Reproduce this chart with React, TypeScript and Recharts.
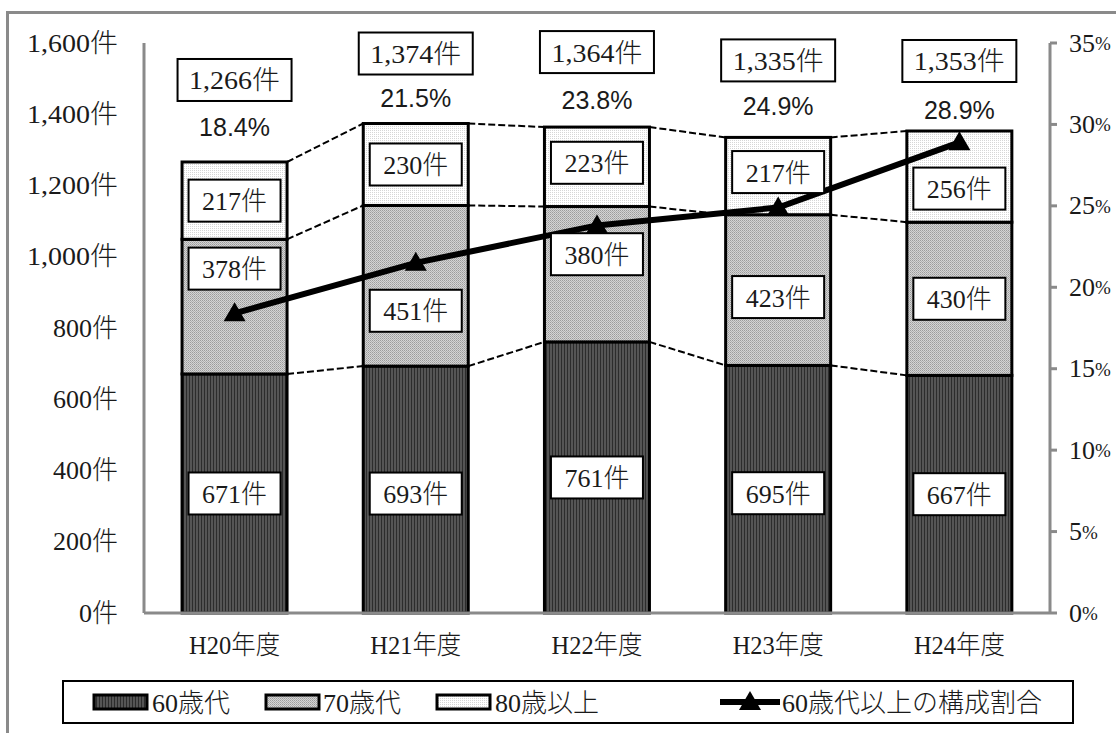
import React from 'react';
import { ComposedChart, Bar, Line, XAxis, YAxis, LabelList } from 'recharts';

// 年度別の件数（年代別）と60歳代以上の構成割合
const years = ['H20年度', 'H21年度', 'H22年度', 'H23年度', 'H24年度'];
const age60 = [671, 693, 761, 695, 667];
const age70 = [378, 451, 380, 423, 430];
const age80 = [217, 230, 223, 217, 256];
const ratio = [18.4, 21.5, 23.8, 24.9, 28.9];

const countTicks = [0, 200, 400, 600, 800, 1000, 1200, 1400, 1600];
const ratioTicks = [0, 5, 10, 15, 20, 25, 30, 35];

// label nudges (px) so boxes stay clear of the line
const shift60 = [0, 4, 0, 4, 0];
const shift70 = [-38, 25, -20, 7, 0];
const shift80 = [0, 0, -4, -4, 12];
const totalBoxShift = [-82, -70, -75, -77, -70];
const ratioShift = [-35, -26, -27, -31, -21];

const W = 1116;
const H = 733;
const FS = 26;

const serif = "'Liberation Serif', 'Noto Sans CJK JP', serif";
const sans = "'Liberation Sans', 'Noto Sans CJK JP', sans-serif";
const axisGray = '#8a8a8a';
const ink = '#1a1a1a';

const data = years.map((year, i) => ({
  year,
  a60: age60[i],
  a70: age70[i],
  a80: age80[i],
  ratio: ratio[i],
}));

const totals = years.map((_, i) => age60[i] + age70[i] + age80[i]);

const fmt = (n: number) => n.toLocaleString('en-US');

// half-width for ASCII, full-width for kana/kanji (mincho-style metrics)
const textWidth = (s: string, fs: number) =>
  Array.from(s).reduce((w, ch) => w + (ch.charCodeAt(0) < 256 ? 0.5 : 1), 0) * fs;

const MText = ({ x, y, anchor = 'start', children }: { x: number; y: number; anchor?: string; children: string }) => (
  <text
    x={x}
    y={y}
    textAnchor={anchor}
    dominantBaseline="central"
    fontFamily={serif}
    fontSize={FS}
    fontWeight={300}
    fill={ink}
    textLength={textWidth(children, FS)}
    lengthAdjust="spacingAndGlyphs"
  >
    {children}
  </text>
);

// remembers each segment's top-left so the next bar can draw a dashed link back to it
const geom: Record<string, { x: number; y: number; w: number }[]> = {};

const segmentShape = (key: string, fill: string) => (props: any) => {
  const { x, y, width, height, index } = props;
  const list = (geom[key] = geom[key] || []);
  list[index] = { x, y, w: width };
  const prev = index > 0 ? list[index - 1] : undefined;
  return (
    <g>
      <rect x={x} y={y} width={width} height={height} fill={fill} stroke="#000" strokeWidth={3} />
      {prev && (
        <line
          x1={prev.x + prev.w}
          y1={prev.y}
          x2={x}
          y2={y}
          stroke="#000"
          strokeWidth={2}
          strokeDasharray="7 3"
        />
      )}
    </g>
  );
};

const box = (props: any) => {
  const vb = props.viewBox || props;
  return { x: vb.x as number, y: vb.y as number, w: vb.width as number, h: vb.height as number };
};

const segmentLabel = (values: number[], shifts: number[]) => (props: any) => {
  const { x, y, w, h } = box(props);
  const i = props.index as number;
  const cx = x + w / 2;
  const cy = y + h / 2 + shifts[i];
  return (
    <g>
      <rect x={cx - 46} y={cy - 21} width={92} height={42} fill="#fff" stroke="#000" strokeWidth={2} />
      <MText x={cx} y={cy + 1} anchor="middle">{`${values[i]}件`}</MText>
    </g>
  );
};

const totalLabel = (props: any) => {
  const { x, y, w } = box(props);
  const i = props.index as number;
  const cx = x + w / 2;
  const by = y + totalBoxShift[i];
  const py = y + ratioShift[i];
  return (
    <g>
      <rect x={cx - 57} y={by - 21} width={114} height={42} fill="#fff" stroke="#000" strokeWidth={2} />
      <MText x={cx} y={by + 1} anchor="middle">{`${fmt(totals[i])}件`}</MText>
      <text x={cx} y={py} textAnchor="middle" dominantBaseline="central" fontFamily={sans} fontSize={25} fill={ink}>
        {ratio[i].toFixed(1)}%
      </text>
    </g>
  );
};

const Triangle = (props: any) => {
  const { cx, cy } = props;
  if (cx == null || cy == null) return null;
  return <polygon points={`${cx},${cy - 11} ${cx + 11},${cy + 8} ${cx - 11},${cy + 8}`} fill="#000" />;
};

const LeftTick = (props: any) => (
  <MText x={props.x} y={props.y} anchor="end">{`${fmt(props.payload.value)}件`}</MText>
);

// percent sign drawn smaller so the label keeps a narrow, half-width look
const RightTick = (props: any) => (
  <text x={props.x} y={props.y} dominantBaseline="central" fontFamily={serif} fontSize={FS} fill={ink}>
    {props.payload.value}
    <tspan fontSize={19}>%</tspan>
  </text>
);

const BottomTick = (props: any) => (
  <MText x={props.x} y={props.y} anchor="middle">{props.payload.value}</MText>
);

const Patterns = ({ prefix }: { prefix: string }) => (
  <defs>
    <pattern id={`${prefix}-p60`} width={3} height={3} patternUnits="userSpaceOnUse">
      <rect width={3} height={3} fill="#555" />
      <rect width={1} height={3} fill="#2c2c2c" />
    </pattern>
    <pattern id={`${prefix}-p70`} width={2} height={2} patternUnits="userSpaceOnUse">
      <rect width={2} height={2} fill="#d4d4d4" />
      <rect width={1} height={1} fill="#9c9c9c" />
      <rect x={1} y={1} width={1} height={1} fill="#b0b0b0" />
    </pattern>
    <pattern id={`${prefix}-p80`} width={2} height={2} patternUnits="userSpaceOnUse">
      <rect width={2} height={2} fill="#fff" />
      <rect width={1} height={1} fill="#d6d6d6" />
    </pattern>
  </defs>
);

const legendItems = [
  { label: '60歳代', fill: 'p60', x: 94, tx: 152 },
  { label: '70歳代', fill: 'p70', x: 266, tx: 323 },
  { label: '80歳以上', fill: 'p80', x: 437, tx: 495 },
];

const ChartLegend = () => (
  <svg width={W} height={H} style={{ position: 'absolute', left: 0, top: 0, pointerEvents: 'none' }}>
    <Patterns prefix="lg" />
    <rect x={63} y={681} width={1010} height={42} fill="#fff" stroke="#000" strokeWidth={2} />
    {legendItems.map((it) => (
      <g key={it.label}>
        <rect x={it.x} y={695} width={53} height={14} fill={`url(#lg-${it.fill})`} stroke="#000" strokeWidth={3} />
        <MText x={it.tx} y={703}>{it.label}</MText>
      </g>
    ))}
    <line x1={720} y1={702} x2={780} y2={702} stroke="#000" strokeWidth={6} />
    <Triangle cx={750} cy={702} />
    <MText x={782} y={703}>60歳代以上の構成割合</MText>
  </svg>
);

export default function App() {
  return (
    <div style={{ position: 'absolute', left: 0, top: 0, width: W, height: H, overflow: 'hidden', background: '#fff' }}>
      <div
        style={{
          position: 'absolute',
          left: 6,
          top: 11,
          width: W + 40,
          height: H + 40,
          border: `3px solid ${axisGray}`,
          boxSizing: 'border-box',
        }}
      />
      <div style={{ position: 'absolute', left: 0, top: 0 }}>
        <ComposedChart
          width={W}
          height={H}
          data={data}
          margin={{ top: 43, right: 0, bottom: 80, left: 0 }}
          barCategoryGap="21%"
        >
          <Patterns prefix="ch" />
          <XAxis
            dataKey="year"
            height={40}
            axisLine={{ stroke: axisGray, strokeWidth: 3 }}
            tickLine={false}
            tickSize={0}
            tickMargin={32}
            tick={BottomTick}
          />
          <YAxis
            yAxisId="count"
            width={144}
            domain={[0, 1600]}
            ticks={countTicks}
            axisLine={{ stroke: axisGray, strokeWidth: 3 }}
            tickLine={false}
            tickSize={0}
            tickMargin={26}
            tick={LeftTick}
            interval={0}
          />
          <YAxis
            yAxisId="ratio"
            orientation="right"
            width={66}
            domain={[0, 35]}
            ticks={ratioTicks}
            axisLine={{ stroke: axisGray, strokeWidth: 3 }}
            tickLine={{ stroke: axisGray, strokeWidth: 3 }}
            tickSize={7}
            tickMargin={12}
            tick={RightTick}
            interval={0}
          />
          <Bar yAxisId="count" dataKey="a60" stackId="n" shape={segmentShape('a60', 'url(#ch-p60)')} isAnimationActive={false}>
            <LabelList content={segmentLabel(age60, shift60)} />
          </Bar>
          <Bar yAxisId="count" dataKey="a70" stackId="n" shape={segmentShape('a70', 'url(#ch-p70)')} isAnimationActive={false}>
            <LabelList content={segmentLabel(age70, shift70)} />
          </Bar>
          <Bar yAxisId="count" dataKey="a80" stackId="n" shape={segmentShape('a80', 'url(#ch-p80)')} isAnimationActive={false}>
            <LabelList content={segmentLabel(age80, shift80)} />
            <LabelList content={totalLabel} />
          </Bar>
          <Line
            yAxisId="ratio"
            dataKey="ratio"
            type="linear"
            stroke="#000"
            strokeWidth={6}
            dot={<Triangle />}
            activeDot={false}
            isAnimationActive={false}
          />
        </ComposedChart>
      </div>
      <ChartLegend />
    </div>
  );
}
